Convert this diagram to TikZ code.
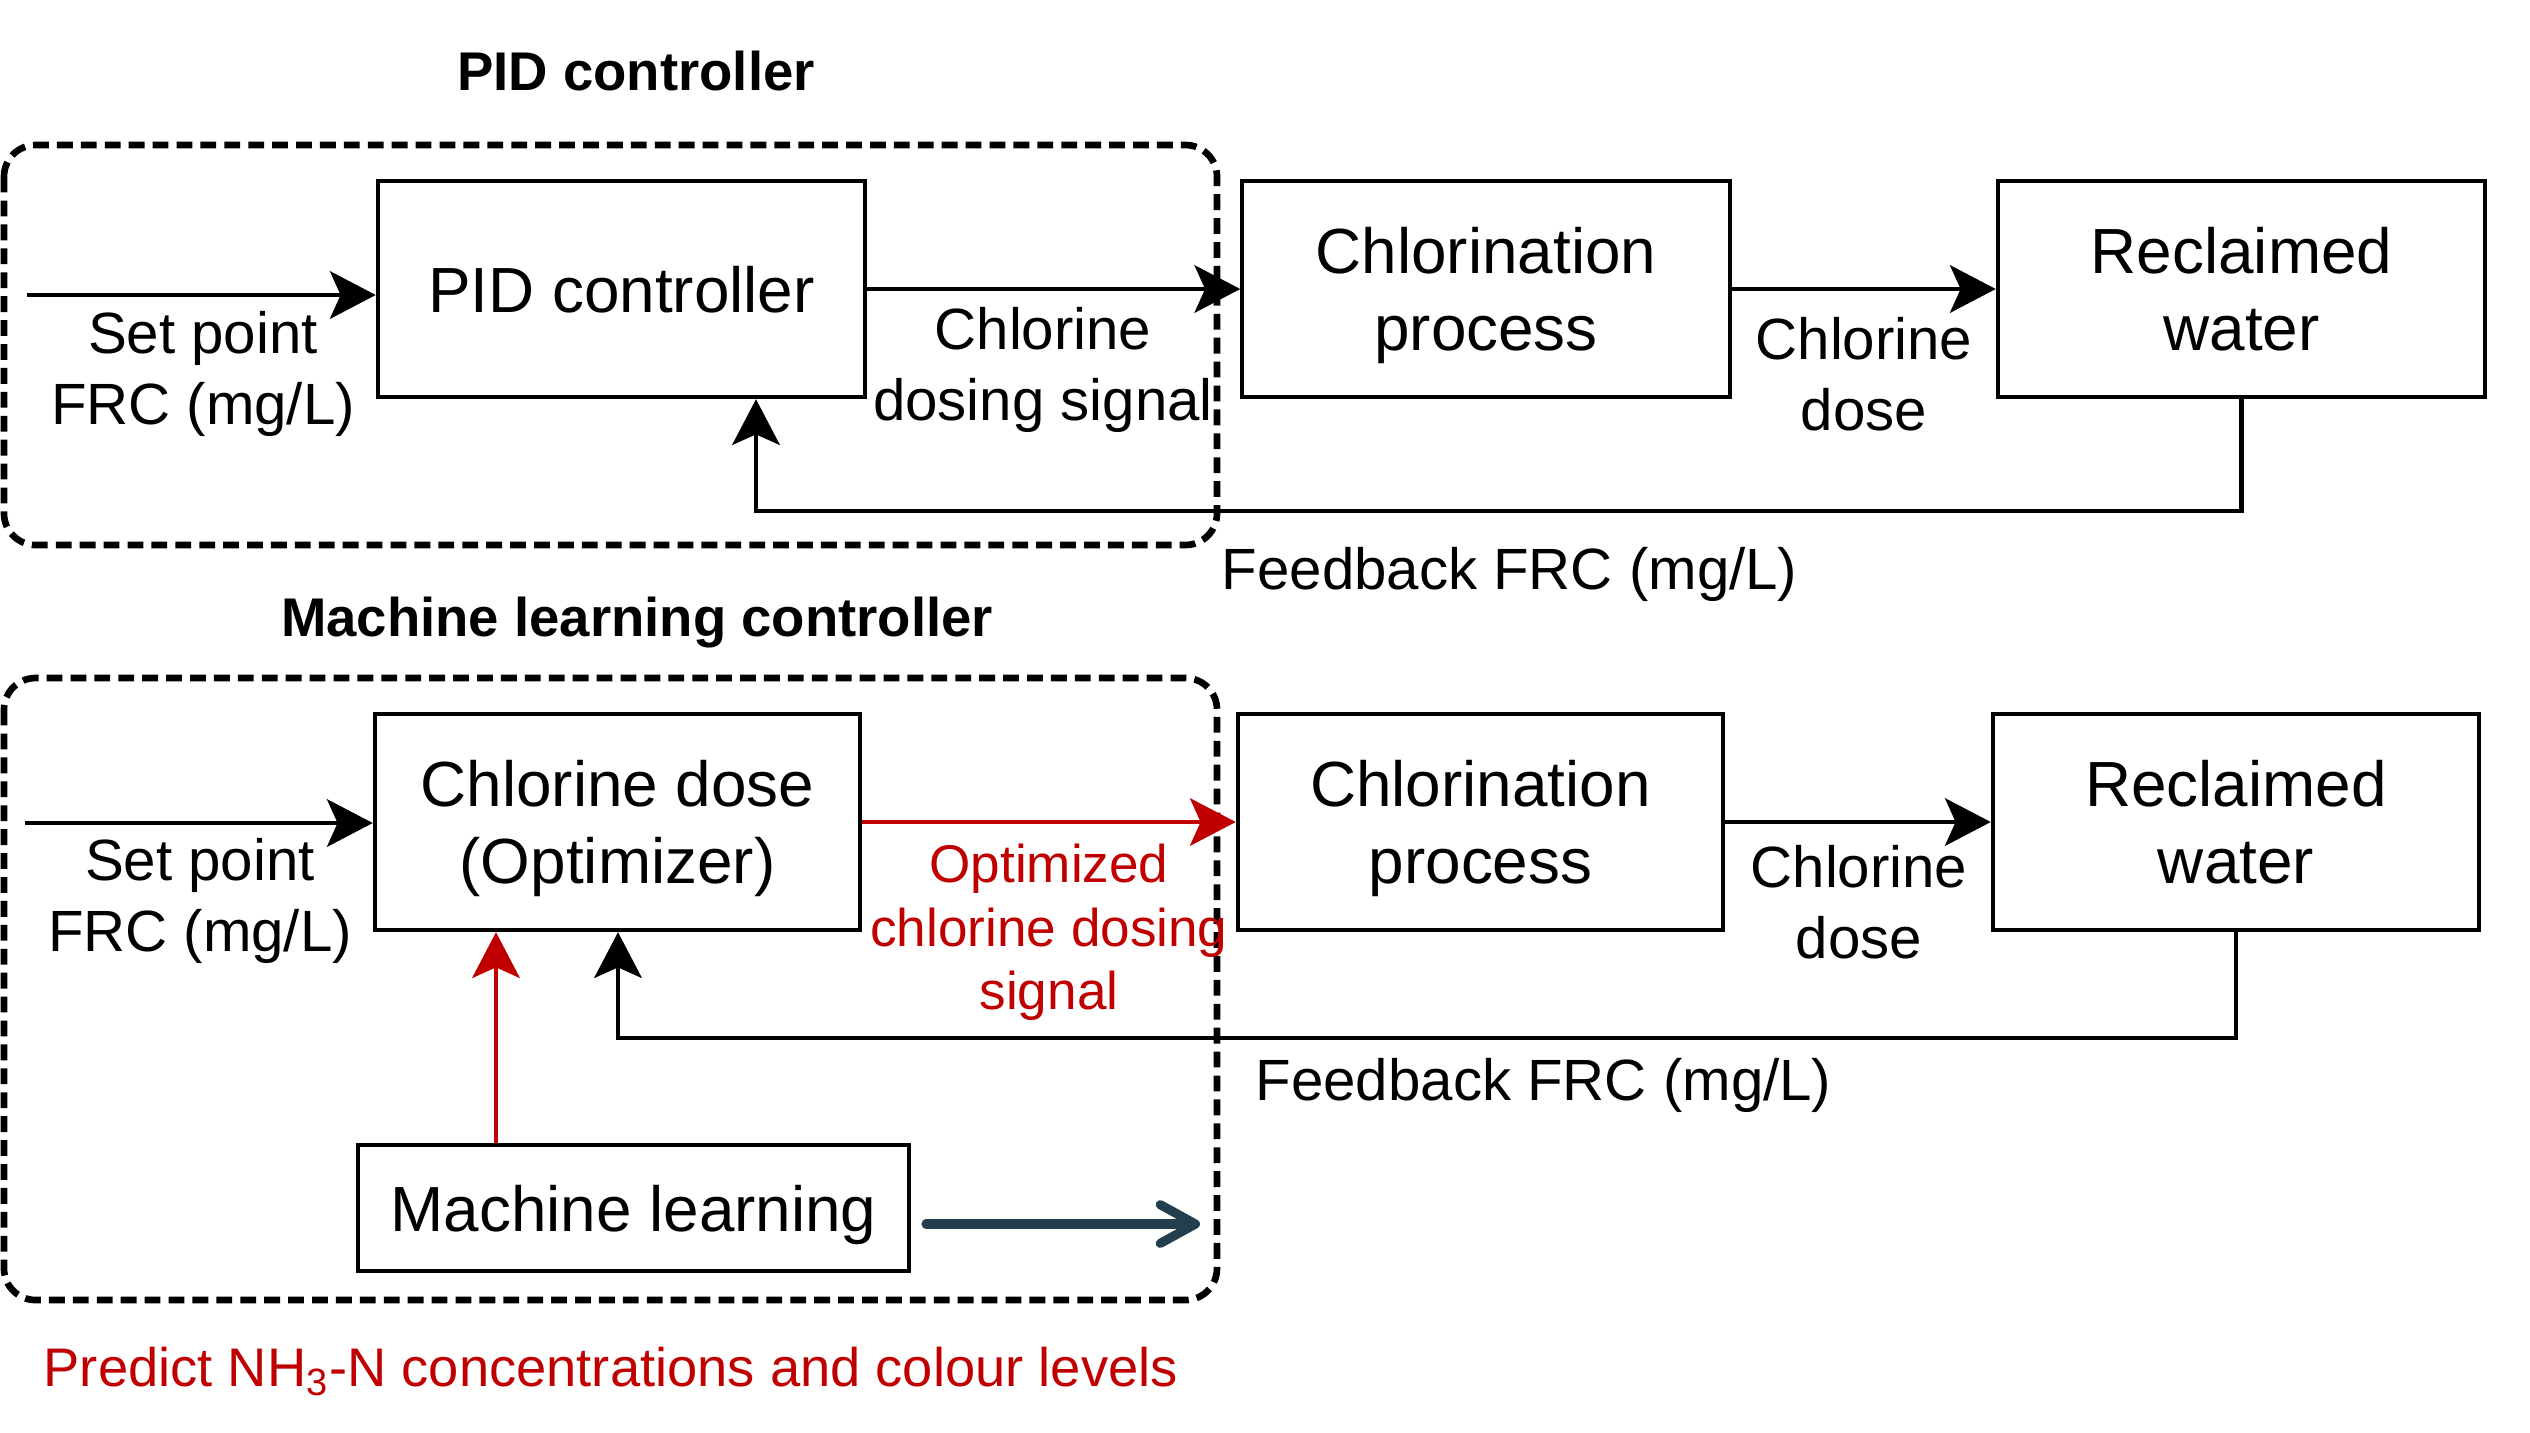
\documentclass[tikz,border=0pt]{standalone}
\usepackage{fontspec}
\setmainfont{Liberation Sans}
\usetikzlibrary{arrows.meta}
\definecolor{myred}{RGB}{192,0,0}
\definecolor{mynavy}{RGB}{35,62,79}
\begin{document}
\begin{tikzpicture}[x=0.01cm,y=-0.01cm,
 box/.style={draw, line width=1.2pt, minimum width=4.87cm, minimum height=2.16cm, inner sep=0pt, align=center, text depth=0pt, font=\fontsize{18.15}{21.8}\selectfont},
 lbl/.style={inner sep=0pt, align=center, text depth=0pt, font=\fontsize{16.55}{20.4}\selectfont},
 redlbl/.style={inner sep=0pt, align=center, text depth=0pt, text=myred, font=\fontsize{15.1}{18.1}\selectfont},
 ttl/.style={inner sep=0pt, anchor=base, font=\bfseries\fontsize{15.5}{18.6}\selectfont},
 arr/.style={line width=1.3pt, -{Stealth[length=13pt,width=13.5pt,inset=3pt]}},
 redarr/.style={arr, draw=myred},
 navyarr/.style={draw=mynavy, line width=2.6pt, line cap=round, -{Straight Barb[length=10pt,width=11pt,round]}},
 dashbox/.style={line width=1.9pt, dash pattern=on 4.5pt off 2.3pt, rounded corners=9pt},
]
\useasboundingbox (0,0) rectangle (2530,1432);

% ---------- top: PID ----------
\node[ttl] (t1) at (636,90) {PID controller};
\draw[dashbox] (4,145) rectangle (1217,545);
\node[box] (pid) at (621.5,289) {PID controller};
\node[box] (chl1) at (1486,289) {Chlorination\\process};
\node[box] (rw1) at (2241.5,289) {Reclaimed\\water};

\coordinate (in1) at (27,295);
\draw[arr] (in1) -- (in1 -| pid.west);
\node[lbl] (sp1) at (203,368) {Set point\\FRC (mg/L)};
\draw[arr] (pid.east) -- (chl1.west);
\node[lbl] (cds) at (1043,364) {Chlorine\\dosing signal};
\draw[arr] (chl1.east) -- (rw1.west);
\node[lbl] (cd1) at (1864,374) {Chlorine\\dose};
\coordinate (fbc1) at (756,511);
\draw[arr] (rw1.south) |- (fbc1) -- (fbc1 |- pid.south);
\node[lbl, anchor=base west] (fb1) at (1221,589) {Feedback FRC (mg/L)};

% ---------- bottom: ML ----------
\node[ttl] (t2) at (637,636) {Machine learning controller};
\draw[dashbox] (4,678) rectangle (1217,1300);
\node[box, minimum width=4.85cm] (opt) at (617.5,822) {Chlorine dose\\(Optimizer)};
\node[box, minimum width=4.85cm] (chl2) at (1480.5,822) {Chlorination\\process};
\node[box, minimum width=4.86cm] (rw2) at (2236,822) {Reclaimed\\water};
\node[box, minimum width=5.51cm, minimum height=1.26cm] (ml) at (633.5,1208) {Machine learning};

\coordinate (in2) at (25,823);
\draw[arr] (in2) -- (in2 -| opt.west);
\node[lbl] (sp2) at (200,895) {Set point\\FRC (mg/L)};
\draw[redarr] (opt.east) -- (chl2.west);
\node[redlbl] (ocds) at (1049,927) {Optimized\\chlorine dosing\\signal};
\draw[arr] (chl2.east) -- (rw2.west);
\node[lbl] (cd2) at (1859,902) {Chlorine\\dose};
\coordinate (fbc2) at (618,1038);
\draw[arr] (rw2.south) |- (fbc2) -- (fbc2 |- opt.south);
\node[lbl, anchor=base west] (fb2) at (1255,1100) {Feedback FRC (mg/L)};

\coordinate (mlx) at (496,0);
\draw[redarr] (ml.north -| mlx) -- (opt.south -| mlx);

\coordinate (bs) at (926,1224);
\coordinate (be) at (1200,1224);
\draw[navyarr] (bs) -- (be);

\node[inner sep=0pt, anchor=base west, text=myred, font=\fontsize{15.45}{18.5}\selectfont] (pred) at (43,1386) {Predict NH\textsubscript{3}-N concentrations and colour levels};
\end{tikzpicture}
\end{document}
